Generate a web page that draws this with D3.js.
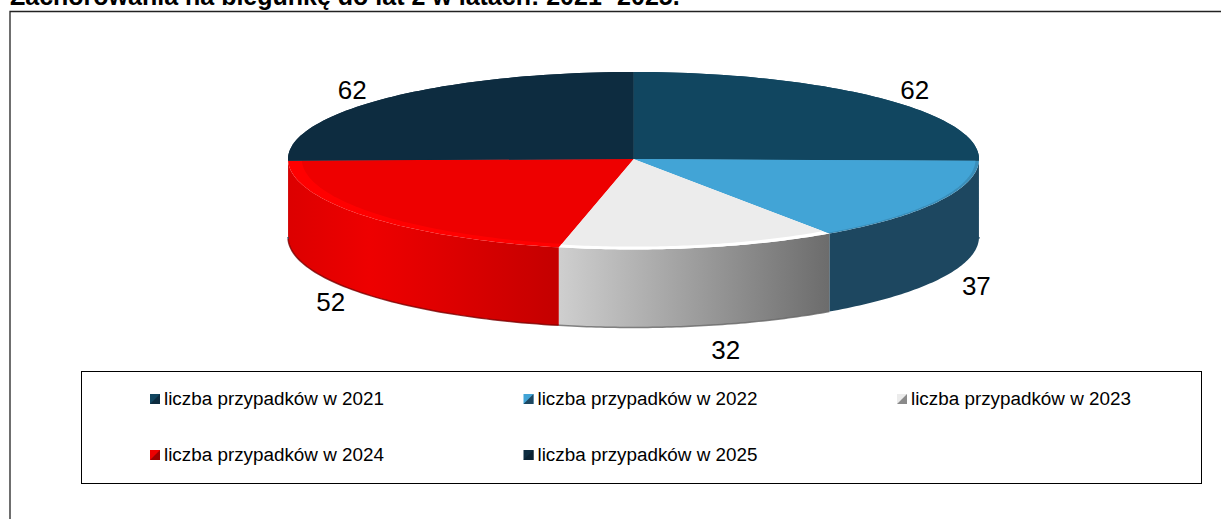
<!DOCTYPE html>
<html>
<head>
<meta charset="utf-8">
<script src="https://d3js.org/d3.v7.min.js"></script>
<style>
    html, body { margin: 0; padding: 0; background: #fff; overflow: hidden; }
    text { font-family: "Liberation Sans", Arial, sans-serif; fill: #000; }
</style>
</head>
<body>
<div id="chart"></div>
<script>
const titleText = "Zachorowania na biegunkę do lat 2 w latach: 2021- 2025.";
const years = ["liczba przypadków w 2021", "liczba przypadków w 2022", "liczba przypadków w 2023", "liczba przypadków w 2024", "liczba przypadków w 2025"];
const cases = [62, 37, 32, 52, 62];

const topColors = ["#114660", "#42a4d6", "#ececec", "#ee0000", "#0d2c40"];
const rimColors = ["#114660", "#3a8fbb", "#ffffff", "#ff0000", "#0d2c40"];
const rimSize = [1, 0.99, 0.968, 0.96, 1];
// side wall gradient stops, left to right
const sideStops = [["#1d4760", "#1d4760"], ["#1d4760", "#1d4760"], ["#cfcfcf", "#6c6c6c"], ["#f00000", "#c60000"], ["#0d2c40", "#0d2c40"]];

const width = 1221, height = 519;
const cx = 633.5, cy = 159, rx = 345.5, ryBack = 87, ryFront = 90.5, depth = 78;

const svg = d3.select("#chart").append("svg")
    .attr("width", width)
    .attr("height", height)
    .style("display", "block");

// frame, runs off the right and bottom of the picture
svg.append("path")
    .attr("d", "M10," + height + "V11.5H" + width)
    .attr("fill", "none")
    .attr("stroke", "#222")
    .attr("stroke-width", 1.3);

svg.append("text")
    .attr("x", 10)
    .attr("y", 5)
    .attr("font-size", 25)
    .attr("font-weight", "bold")
    .text(titleText);

const pie = d3.pie().sort(null)(cases);
const defs = svg.append("defs");

// point on the ellipse, angle 0 at 12 o'clock going clockwise
// the front half of the disc is a little deeper than the back half
function px(a, k) { return cx + Math.sin(a) * rx * (k || 1); }
function py(a, k) {
    const c = Math.cos(a);
    return cy - c * (c > 0 ? ryBack : ryFront) * (k || 1);
}
function arcPoints(a0, a1, k, dy) {
    return d3.range(61).map(i => {
        const a = a0 + (a1 - a0) * i / 60;
        return [px(a, k), py(a, k) + (dy || 0)];
    });
}
const line = d3.line();

pie.forEach((d, i) => {
    const a0 = Math.max(d.startAngle, Math.PI / 2);
    const a1 = Math.min(d.endAngle, Math.PI * 1.5);
    if (a0 >= a1) return;
    const grad = defs.append("linearGradient")
        .attr("id", "side" + i)
        .attr("gradientUnits", "userSpaceOnUse")
        .attr("x1", px(a1)).attr("x2", px(a0)).attr("y1", 0).attr("y2", 0);
    if (i === 3) {
        // red wall is darker at both ends, brightest left of the middle
        grad.append("stop").attr("offset", 0).attr("stop-color", "#dc0000");
        grad.append("stop").attr("offset", 0.3).attr("stop-color", "#ee0000");
        grad.append("stop").attr("offset", 0.55).attr("stop-color", "#e00000");
        grad.append("stop").attr("offset", 1).attr("stop-color", "#c40000");
    } else {
        grad.append("stop").attr("offset", 0).attr("stop-color", sideStops[i][0]);
        grad.append("stop").attr("offset", 1).attr("stop-color", sideStops[i][1]);
    }
    svg.append("path")
        .attr("d", line(arcPoints(a0, a1).concat(arcPoints(a0, a1, 1, depth).reverse())) + "Z")
        .attr("fill", "url(#side" + i + ")");
    svg.append("path")
        .attr("d", line(arcPoints(a0, a1, 1, depth)))
        .attr("fill", "none")
        .attr("stroke", i === 2 ? "#666" : (i === 3 ? "#7a0000" : "#1d4760"))
        .attr("stroke-width", i === 1 ? 0 : 1.5)
        .attr("stroke-opacity", 0.8);
});

// flat top: a lighter rim slice with the face slice laid over it
function slicePath(d, k) {
    return line([[cx, cy]].concat(arcPoints(d.startAngle, d.endAngle, k))) + "Z";
}
svg.selectAll(".rim").data(pie).enter().append("path")
    .attr("class", "rim")
    .attr("d", d => slicePath(d, 1))
    .attr("fill", (d, i) => rimColors[i]);
svg.selectAll(".face").data(pie).enter().append("path")
    .attr("class", "face")
    .attr("d", (d, i) => slicePath(d, rimSize[i]))
    .attr("fill", (d, i) => topColors[i]);

// data labels sit just outside the disc, lower ones below the wall
const labelNudge = [[0, 0], [-4, -8], [17, 4], [2, -8], [0, 0]];
svg.selectAll(".value").data(pie).enter().append("text")
    .attr("class", "value")
    .attr("text-anchor", "middle")
    .attr("font-size", 26)
    .attr("x", (d, i) => px((d.startAngle + d.endAngle) / 2, 1.14) + labelNudge[i][0])
    .attr("y", (d, i) => {
        const a = (d.startAngle + d.endAngle) / 2;
        const down = Math.cos(a) < 0 ? depth : 0;
        return py(a, 1.14) + down + 9 + labelNudge[i][1] + (down ? 8 : 0);
    })
    .text(d => d.data);

// legend
svg.append("rect")
    .attr("x", 81.5).attr("y", 371.5)
    .attr("width", 1120).attr("height", 112)
    .attr("fill", "#fff")
    .attr("stroke", "#000");

const legendX = d3.scaleOrdinal().domain([0, 1, 2]).range([150, 523.5, 897]);
const legendY = d3.scaleOrdinal().domain([0, 1]).range([399, 455]);

const items = svg.selectAll(".item").data(years).enter().append("g")
    .attr("class", "item")
    .attr("transform", (d, i) => "translate(" + legendX(i % 3) + "," + legendY(Math.floor(i / 3)) + ")");

const markerSide = ["#0d2c40", "#1d4760", "#8a8a8a", "#9c0000", "#0a2233"];
items.append("rect")
    .attr("x", 0).attr("y", -5)
    .attr("width", 10).attr("height", 10)
    .attr("fill", (d, i) => topColors[i]);
items.append("path")
    .attr("d", "M10,-5V5L5,0Z M0,5H10L5,0Z")
    .attr("fill", (d, i) => markerSide[i]);
items.append("text")
    .attr("x", 14)
    .attr("y", 6)
    .attr("font-size", 18.85)
    .text(d => d);
</script>
</body>
</html>
